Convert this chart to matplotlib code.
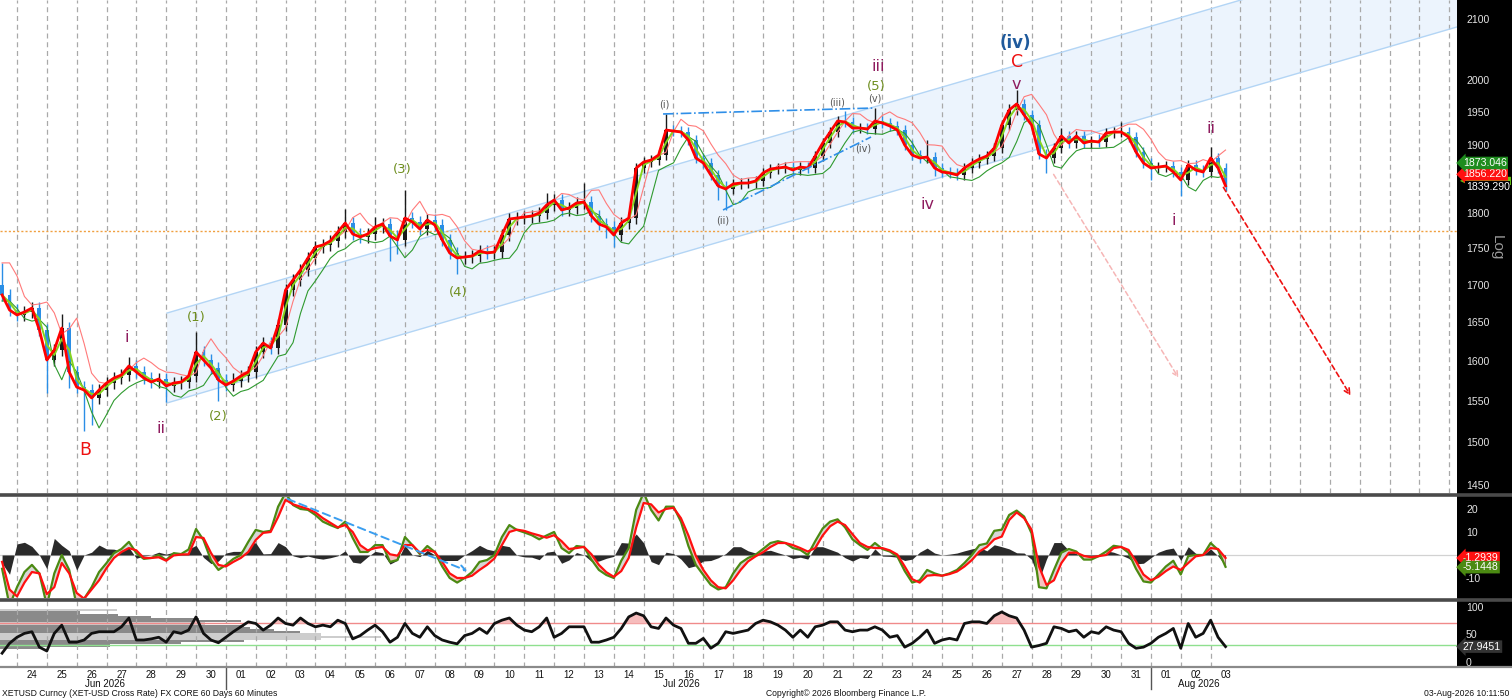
import numpy as np
import pandas as pd
import matplotlib
matplotlib.use('Agg')
import matplotlib.pyplot as plt
from matplotlib.patches import Rectangle, Polygon
from matplotlib.lines import Line2D
from matplotlib.ticker import NullLocator

plt.rcParams['font.family'] = ['Liberation Sans', 'DejaVu Sans']

# ---------------- data (6-hourly samples, Jun 23 12:00 -> Aug 03 ~10:00) ----------------
open0 = 1700.0
close = [
    1686.4, 1666.4, 1659.8, 1663.8, 1669.0, 1640.1, 1601.5, 1614.3, 1642.7, 1586.3,
    1567.4, 1563.7, 1553.9, 1563.7, 1572.4, 1578.7, 1582.5, 1593.9, 1586.3, 1578.7,
    1573.7, 1577.5, 1568.7, 1572.4, 1573.7, 1581.2, 1611.7, 1601.5, 1591.3, 1576.2,
    1569.9, 1574.9, 1581.2, 1586.3, 1611.7, 1623.2, 1616.8, 1646.7, 1693.1, 1706.6,
    1720.3, 1736.8, 1752.0, 1754.8, 1760.4, 1773.0, 1785.7, 1770.2, 1766.0, 1770.2,
    1780.1, 1784.3, 1767.4, 1761.8, 1792.8, 1787.2, 1777.2, 1790.0, 1782.9, 1761.8,
    1743.7, 1736.8, 1738.1, 1739.5, 1746.4, 1743.7, 1745.0, 1768.8, 1791.4, 1792.8,
    1794.2, 1795.7, 1800.0, 1811.5, 1818.7, 1804.3, 1807.2, 1814.4, 1815.8, 1795.7,
    1784.3, 1780.1, 1768.8, 1785.7, 1792.8, 1865.5, 1874.4, 1877.4, 1884.9, 1922.7,
    1921.2, 1919.7, 1907.5, 1880.4, 1873.0, 1855.2, 1839.0, 1834.7, 1842.0, 1843.4,
    1843.4, 1846.4, 1858.2, 1864.1, 1865.5, 1867.0, 1862.6, 1867.0, 1865.5, 1883.4,
    1903.0, 1919.7, 1936.6, 1935.0, 1925.8, 1925.8, 1924.2, 1936.6, 1933.5, 1928.9,
    1922.7, 1899.9, 1884.9, 1880.4, 1881.9, 1865.5, 1859.6, 1858.2, 1855.2, 1865.5,
    1873.0, 1878.9, 1883.4, 1895.4, 1930.4, 1953.6, 1963.0, 1945.9, 1930.4, 1886.4,
    1880.4, 1895.4, 1913.6, 1903.0, 1913.6, 1903.0, 1906.0, 1904.5, 1918.2, 1919.7,
    1919.7, 1912.1, 1889.4, 1873.0, 1865.5, 1867.0, 1868.5, 1859.6, 1847.8, 1870.0,
    1862.6, 1859.6, 1880.4, 1865.5, 1839.3]

wick_up = [
    30, 8, 8, 8, 8, 8, 8, 8, 18, 8,
    8, 8, 8, 8, 8, 8, 8, 12, 8, 8,
    8, 8, 8, 8, 8, 8, 26, 8, 8, 8,
    8, 10, 8, 8, 8, 8, 8, 8, 8, 8,
    8, 8, 8, 8, 8, 8, 20, 8, 8, 8,
    14, 8, 8, 8, 40, 8, 8, 8, 8, 8,
    8, 8, 8, 8, 8, 8, 8, 8, 8, 8,
    8, 8, 8, 18, 8, 8, 8, 8, 27, 8,
    8, 8, 8, 8, 8, 8, 8, 8, 8, 25,
    8, 8, 8, 8, 8, 8, 8, 8, 8, 8,
    8, 8, 8, 8, 8, 8, 8, 8, 8, 8,
    8, 8, 8, 15, 8, 8, 8, 20, 8, 8,
    8, 8, 8, 8, 25, 8, 8, 8, 8, 8,
    8, 8, 8, 8, 8, 10, 22, 8, 8, 8,
    8, 8, 12, 8, 8, 8, 8, 10, 8, 8,
    16, 8, 8, 8, 8, 8, 8, 8, 8, 8,
    8, 8, 16, 8, 8]

wick_dn = [
    8, 8, 8, 8, 8, 8, 42, 8, 8, 20,
    8, 50, 33, 8, 8, 8, 8, 8, 8, 8,
    8, 8, 20, 8, 8, 8, 8, 8, 8, 26,
    8, 8, 8, 8, 8, 8, 8, 8, 8, 8,
    8, 8, 8, 8, 8, 8, 8, 8, 8, 8,
    8, 8, 35, 20, 8, 8, 8, 8, 8, 8,
    8, 22, 8, 8, 8, 8, 8, 8, 8, 8,
    8, 8, 8, 8, 8, 8, 8, 8, 8, 8,
    8, 15, 17, 8, 8, 8, 8, 8, 8, 8,
    8, 8, 8, 8, 8, 8, 20, 30, 8, 8,
    8, 8, 8, 8, 8, 8, 8, 8, 8, 8,
    8, 8, 8, 8, 8, 8, 8, 8, 8, 8,
    8, 8, 8, 8, 8, 12, 8, 8, 8, 8,
    8, 8, 8, 8, 8, 8, 8, 8, 8, 8,
    22, 8, 8, 8, 8, 8, 8, 8, 8, 8,
    8, 8, 8, 8, 17, 8, 8, 8, 24, 8,
    8, 8, 8, 8, 8]

macd_line = [
    -6, -22, -14, -7.4, -4.3, -8, -22, -8, 0, -6.5,
    -22, -19, -14, -7.4, -3.5, 0.8, 2.6, 5.7, 0.8, -1.7,
    -1.3, 0, -2.2, 0.8, 0.4, 2.4, 11.3, 6.5, -2.2, -6.5,
    -4.3, -1.7, 0, 5.7, 10.9, 10, 10.5, 21, 27, 21.7,
    20, 19.6, 17.4, 14.5, 13, 11.7, 14.5, 7.4, 1.3, 1.3,
    4.3, 4.3, -3, -2.2, 7.8, 4.3, 0.4, 3.9, 1.3, -5,
    -10, -12, -10, -7.4, -3, -2.2, 0, 7.8, 13, 10.9,
    9.8, 8.6, 6.8, 8.5, 10, 3, 0.8, 3.9, 3.5, -2,
    -6.5, -8.7, -10, -2.5, 3, 19.6, 27, 19.6, 15, 21,
    21, 14.5, 3.9, -4.3, -8.7, -13, -15, -14, -8, -3.5,
    -1.3, 0.1, 2.6, 5.2, 6, 5.2, 3, 2.2, 0, 6,
    11.5, 14.5, 15.5, 12, 6.8, 4.3, 2.2, 5.2, 2.6, 1.5,
    -0.6, -7, -12, -11, -6.5, -8, -9, -8, -6.5, -3.5,
    0, 4.3, 5, 10.5, 11, 17.4, 19.3, 16.7, 9.4, -14,
    -14.5, -6.5, 1, 2.6, 1.5, -2, -2, -0.5, 1.5, 4,
    3.5, 1, -6, -11.5, -12, -8.5, -5, -2.5, -8.5, -0.5,
    0, 0, 5.2, 2.2, -5.1448]

macd_signal = [
    -3, -15, -18, -12, -7.4, -8, -17, -14, -3.5, -8,
    -16.5, -19, -15, -11, -5.7, -1.3, 1.3, 3, 2, -1.3,
    -1.3, -1, -2.5, -0.2, 0.2, 0.3, 7.8, 7.4, 0.9, -4.3,
    -5, -3, -1.3, 1.3, 6.5, 9.6, 10, 16.5, 24, 22,
    21, 20, 18.5, 16, 14, 12, 13, 10, 4.3, 2,
    3, 3.5, 0.3, -0.3, 4.3, 4.3, 1, 2.2, 1.3, -3,
    -8, -10, -10, -9, -6.5, -4.3, -1.5, 4.3, 10, 11,
    10.5, 9.4, 8.5, 7.5, 8.6, 6, 2.6, 3, 3.5, 0.3,
    -4.3, -7.5, -9.5, -7, -1.3, 12, 22.6, 22, 18.5, 20,
    20.5, 16, 8.5, -0.4, -6.5, -11, -14, -14.5, -11, -6.5,
    -2.8, -0.6, 1.2, 3.5, 5.2, 5.2, 4.3, 3, 1.5, 3,
    8.5, 12.5, 14.5, 13, 9, 5.2, 3.5, 3, 3, 2,
    0.2, -5, -10.5, -12, -9, -8.7, -9, -8.3, -7.2, -5,
    -2.2, 1.5, 3.5, 6.8, 8, 15.2, 18.5, 16, 11, -5,
    -13, -11, -3.5, 1, 1, -0.4, -1, -0.5, 0, 3,
    3.5, 2.2, -2.8, -8.5, -11, -9.5, -7, -5, -6.5, -3.5,
    -0.6, 0, 3, 2.6, -1.2939]

rsi = [
    16, 34, 45, 52, 55, 27, 20, 52, 67, 36,
    36, 40, 52, 55, 55, 55, 64, 80, 40, 40,
    42, 45, 36, 55, 52, 58, 82, 52, 40, 35,
    45, 55, 64, 73, 70, 58, 67, 80, 70, 67,
    80, 70, 64, 67, 64, 76, 70, 42, 48, 58,
    67, 55, 36, 45, 70, 52, 45, 64, 48, 40,
    36, 33, 48, 52, 61, 52, 70, 76, 80, 67,
    58, 55, 64, 80, 45, 52, 64, 64, 64, 36,
    36, 40, 45, 61, 82, 89, 84, 64, 61, 80,
    67, 61, 34, 34, 43, 25, 34, 55, 52, 55,
    58, 70, 76, 73, 67, 58, 45, 58, 45, 64,
    67, 73, 73, 58, 55, 58, 58, 64, 58, 45,
    48, 27, 34, 45, 58, 34, 40, 43, 40, 70,
    73, 73, 70, 84, 91, 84, 80, 58, 27, 30,
    34, 64, 61, 55, 58, 45, 55, 52, 64, 58,
    55, 34, 25, 27, 34, 45, 52, 61, 25, 70,
    45, 52, 76, 45, 27.9451]

# volume-at-level profile drawn in the RSI pane (level, right end in days, shade)
vp_levels = [94, 90, 86, 82, 78, 74, 70, 66, 62, 58, 54, 50, 46, 42, 38, 34, 30, 26]
vp_right = [3.35, 2.1, 3.4, 4.5, 6.1, 7.5, 6.3, 7.6, 7.8, 8.6, 9.5, 10.2, 12.2, 10.2, 7.6, 5.5, 3.1, 0.8]
vp_shade = ['l', 'd', 'd', 'd', 'd', 'd', 'l', 'd', 'd', 'd', 'd', 'l', 'l', 'l', 'd', 'd', 'd', 'd']

day_labels = ['24', '25', '26', '27', '28', '29', '30', '01', '02', '03', '04', '05', '06', '07',
              '08', '09', '10', '11', '12', '13', '14', '15', '16', '17', '18', '19', '20', '21',
              '22', '23', '24', '25', '26', '27', '28', '29', '30', '31', '01', '02', '03']
month_labels = [('Jun 2026', 2.95), ('Jul 2026', 22.25), ('Aug 2026', 39.6)]

price_ticks = [2100, 2000, 1950, 1900, 1800, 1750, 1700, 1650, 1600, 1550, 1500, 1450]
macd_ticks = [20, 10, -10]
rsi_ticks = [100, 50, 0]

assert len(close) == len(wick_up) == len(wick_dn) == len(macd_line) == len(macd_signal) == len(rsi) == 165

# ---------------- figure layout ----------------
W, H = 1512, 699
fig = plt.figure(figsize=(W / 100, H / 100), dpi=100)
fig.patch.set_facecolor('white')


def fx(px):
    return px / W


def fy(py):
    return 1 - py / H


XL = (-0.5697, 48.257)
ax = fig.add_axes([0, fy(493), fx(1457), 493 / H])
am = fig.add_axes([0, fy(598), fx(1457), 101 / H])
ar = fig.add_axes([0, fy(667), fx(1457), 66 / H])

fig.add_artist(Rectangle((fx(1457), fy(667)), 1 - fx(1457), 1 - fy(667), transform=fig.transFigure,
                         facecolor='black', edgecolor='none', zorder=-10))
for yy, c, lw in [(495, '#4a4a4a', 2.6), (599.5, '#4a4a4a', 2.6), (667, '#8a8a8a', 1.6)]:
    fig.add_artist(Line2D([0, 1], [fy(yy), fy(yy)], transform=fig.transFigure, color=c, lw=lw, zorder=20))

for a in (ax, am, ar):
    a.set_xlim(*XL)
    for s in a.spines.values():
        s.set_visible(False)
    a.yaxis.tick_right()
    a.tick_params(axis='y', which='both', length=0, pad=6.5, labelcolor='#e4e4e4', labelsize=7.6)
    a.tick_params(axis='x', which='both', length=0)

GRID = dict(colors='#a9a9a9', linestyles=(0, (4, 3)), lw=0.9)

# ---------------- main price pane ----------------
t = -0.5 + 0.25 * np.arange(len(close))
C = np.array(close)
O = np.r_[open0, C[:-1]]
top = np.maximum(O, C)
bot = np.minimum(O, C)
Hh = top + np.array(wick_up)
Ll = bot - np.array(wick_dn)
upm = C >= O

ax.set_yscale('log')
ax.set_ylim(1440.8, 2132.1)
ax.set_yticks(price_ticks)
ax.set_yticklabels([str(v) for v in price_ticks])
ax.yaxis.set_minor_locator(NullLocator())
ax.set_xticks([])

ax.vlines(np.arange(0, 49), 0, 1, transform=ax.get_xaxis_transform(), zorder=1, **GRID)

# channel
ch_x = [5.027, 48.257]
ch_lo = [1547.7, 2086.9]
ch_hi = [1662.4, 2241.6]
ax.add_patch(Polygon([(ch_x[0], ch_lo[0]), (ch_x[1], ch_lo[1]), (ch_x[1], ch_hi[1]), (ch_x[0], ch_hi[0])],
                     closed=True, facecolor='#ecf4fd', edgecolor='none', zorder=0.5))
ax.plot(ch_x, ch_lo, color='#b3d5f5', lw=1.0, zorder=1.2)
ax.plot(ch_x, ch_hi, color='#b3d5f5', lw=1.0, zorder=1.2)

ax.axhline(1775, color='#f0a040', lw=1.0, ls=(0, (1.5, 1.5)), zorder=1.5)

# candles
cols = np.where(upm, '#1a1a1a', '#2a8ee6')
ax.vlines(t, Ll, Hh, colors=cols, lw=1.0, zorder=3)
ax.bar(t, top - bot + 0.4, bottom=bot, width=0.13, color=cols, zorder=3.1, linewidth=0)

s = pd.Series(C)
fast = s.rolling(2, min_periods=1).mean()
env_hi = pd.Series(Hh).rolling(2, min_periods=1).mean().shift(1).bfill()
env_lo = pd.Series(Ll).rolling(2, min_periods=1).mean().shift(1).bfill()
ax.plot(t, env_hi, color='#ff7a7a', lw=0.8, zorder=3.5)
ax.plot(t, env_lo, color='#2f9a2f', lw=0.8, zorder=3.5)
ax.plot(t, fast, color='#86d41e', lw=1.4, zorder=3.6)
ax.plot(t, C, color='#ff0000', lw=2.0, zorder=3.7)

# wave channel / trend lines
ax.plot([21.65, 28.75], [1947.4, 1956.7], color='#2f8fe8', ls='-.', lw=1.2, zorder=4)
ax.plot([23.66, 28.62], [1804.3, 1912.1], color='#2f8fe8', ls='-.', lw=1.2, zorder=4)

ax.annotate('', xy=(44.74, 1553.8), xytext=(40.38, 1840.5),
            arrowprops=dict(arrowstyle='->', color='#ee1111', ls=(0, (3, 2)), lw=1.2, mutation_scale=10),
            zorder=5)
ax.annotate('', xy=(38.97, 1576.2), xytext=(34.69, 1859.6),
            arrowprops=dict(arrowstyle='->', color='#f6b6b6', ls=(0, (3, 2)), lw=1.1, mutation_scale=9),
            zorder=2)

PURPLE = '#8e1b5e'
OLIVE = '#6f8f1f'
GREY = '#555555'
labels = [
    ('B', 2.28, 1490.9, '#ee1111', 12.5, 'normal'),
    ('i', 3.69, 1631.0, PURPLE, 11.5, 'normal'),
    ('ii', 4.83, 1516.0, PURPLE, 11.5, 'normal'),
    ('(1)', 6.0, 1655.9, OLIVE, 9.5, 'normal'),
    ('(2)', 6.74, 1531.7, OLIVE, 9.5, 'normal'),
    ('(3)', 12.9, 1862.6, OLIVE, 9.5, 'normal'),
    ('(4)', 14.78, 1690.4, OLIVE, 9.5, 'normal'),
    ('(5)', 28.79, 1991.2, OLIVE, 9.5, 'normal'),
    ('iii', 28.85, 2023.1, PURPLE, 11.5, 'normal'),
    ('(i)', 21.68, 1962.9, GREY, 7, 'normal'),
    ('(ii)', 23.66, 1790.0, GREY, 7, 'normal'),
    ('(iii)', 27.48, 1964.5, GREY, 7, 'normal'),
    ('(iv)', 28.35, 1895.4, GREY, 7, 'normal'),
    ('(v)', 28.75, 1972.3, GREY, 7, 'normal'),
    ('iv', 30.5, 1811.5, PURPLE, 11.5, 'normal'),
    ('v', 33.48, 1994.3, PURPLE, 11.5, 'normal'),
    ('C', 33.51, 2029.5, '#ee1111', 12.5, 'normal'),
    ('(iv)', 33.45, 2060.4, '#1f5a9c', 12, 'bold'),
    ('ii', 40.01, 1924.3, PURPLE, 11.5, 'normal'),
    ('i', 38.77, 1788.6, PURPLE, 11.5, 'normal'),
]
for txt, xd, yp, c, fs, fw in labels:
    ax.text(xd, yp, txt, color=c, fontsize=fs, fontweight=fw, ha='center', va='center',
            family=['DejaVu Sans'], zorder=6)

# price tags on the right scale (light-green tag is almost fully hidden in the original)
ytr = ax.get_yaxis_transform()
ax.add_patch(Polygon([(1.002, 1846.5), (1.008, 1852.5), (1.037, 1852.5), (1.037, 1840.5), (1.008, 1840.5)],
                     closed=True, transform=ytr, facecolor='#66cc11', edgecolor='none', clip_on=False, zorder=29))
tags = [(1856.220, '1856.220', '#ff1010'), (1873.046, '1873.046', '#1e8c1e')]
for yv, txt, fc in tags:
    ax.text(1.004, yv, txt, transform=ytr, ha='left', va='center', color='white', fontsize=7.6, clip_on=False,
            bbox=dict(boxstyle='larrow,pad=0.12', fc=fc, ec='none'), zorder=30)
ax.text(1.006, 1838.0, '1839.290', transform=ytr, ha='left', va='center', color='white', fontsize=7.6,
        clip_on=False, zorder=31, bbox=dict(boxstyle='square,pad=0.05', fc='black', ec='none'))
fig.text(fx(1497), fy(248), 'Log', rotation=-90, color='#9a9a9a', fontsize=11, ha='center', va='center')

# ---------------- MACD pane ----------------
g = np.array(macd_line)
r = np.array(macd_signal)
hist = 1.2 * (g - r)
am.set_ylim(-18.7, 25.2)
am.set_xticks([])
am.vlines(np.arange(0, 41), 0, 1, transform=am.get_xaxis_transform(), zorder=1, **GRID)
am.axhline(0, color='#d2d2d2', lw=0.9, zorder=1.5)
am.fill_between(t, 0, hist, color='#2a2a2a', lw=0, zorder=2)
am.fill_between(t, g, r, where=g >= r, interpolate=True, color='#d6d6d6', lw=0, zorder=3)
am.fill_between(t, g, r, where=g < r, interpolate=True, color='#f7c2c2', lw=0, zorder=3)
am.plot(t, g, color='#4b8a12', lw=1.6, zorder=4)
am.plot(t, r, color='#ff1010', lw=1.6, zorder=5)
am.set_yticks(macd_ticks)
am.set_yticklabels([str(v) for v in macd_ticks])
am.annotate('', xy=(15.18, -7.4), xytext=(8.98, 24.8),
            arrowprops=dict(arrowstyle='->', color='#3a9ef0', ls=(0, (4, 2.5)), lw=1.4, mutation_scale=10),
            zorder=6)
ytm = am.get_yaxis_transform()
am.text(1.004, -1.2939, '-1.2939', transform=ytm, ha='left', va='center', color='white', fontsize=7.6,
        clip_on=False, bbox=dict(boxstyle='larrow,pad=0.12', fc='#ff1010', ec='none'), zorder=30)
am.text(1.004, -5.3, '-5.1448', transform=ytm, ha='left', va='center', color='white', fontsize=7.6,
        clip_on=False, bbox=dict(boxstyle='larrow,pad=0.12', fc='#4b8a12', ec='none'), zorder=31)

# ---------------- RSI pane ----------------
rs = np.array(rsi)
ar.set_ylim(-9.1, 110.9)
vp_cols = ['#8a8a8a' if c == 'd' else '#cdcdcd' for c in vp_shade]
ar.barh(vp_levels, [w - XL[0] for w in vp_right], left=XL[0], height=4.0, color=vp_cols, lw=0, zorder=1)
ar.vlines(np.arange(0, 41), 0, 1, transform=ar.get_xaxis_transform(), zorder=1.5, **GRID)
ar.axhline(70, color='#f08a8a', lw=1.0, zorder=2)
ar.axhline(30, color='#8fe08f', lw=1.0, zorder=2)
ar.fill_between(t, 70, rs, where=rs > 70, interpolate=True, color='#f6bcbc', lw=0, zorder=2.5)
ar.plot(t, rs, color='#111111', lw=2.0, zorder=4)
ar.set_yticks(rsi_ticks)
ar.set_yticklabels([str(v) for v in rsi_ticks])
ar.text(1.004, 27.9451, '27.9451', transform=ar.get_yaxis_transform(), ha='left', va='center', color='white',
        fontsize=7.6, clip_on=False, bbox=dict(boxstyle='larrow,pad=0.12', fc='#333333', ec='none'), zorder=30)

ar.set_xticks(np.arange(len(day_labels)) + 0.5)
ar.set_xticklabels(day_labels)
ar.tick_params(axis='x', labelsize=7, pad=2, labelcolor='#111111')

for txt, xd in month_labels:
    xf = (xd - XL[0]) / (XL[1] - XL[0]) * fx(1457)
    fig.text(xf, fy(684), txt, ha='center', va='center', fontsize=7, color='#111111')
for xd in (7, 38):
    xf = (xd - XL[0]) / (XL[1] - XL[0]) * fx(1457)
    fig.add_artist(Line2D([xf, xf], [fy(667), fy(689)], transform=fig.transFigure, color='#555555', lw=1.0))

fig.text(fx(2), fy(693), 'XETUSD Curncy (XET-USD Cross Rate) FX CORE 60 Days 60 Minutes', ha='left',
         va='center', fontsize=6.2, color='#111111')
fig.text(fx(846), fy(693), 'Copyright\u00a9 2026 Bloomberg Finance L.P.', ha='center', va='center',
         fontsize=6.2, color='#111111')
fig.text(fx(1509), fy(693), '03-Aug-2026 10:11:50', ha='right', va='center', fontsize=6.2, color='#111111')

fig.savefig('out.png', dpi=100)
